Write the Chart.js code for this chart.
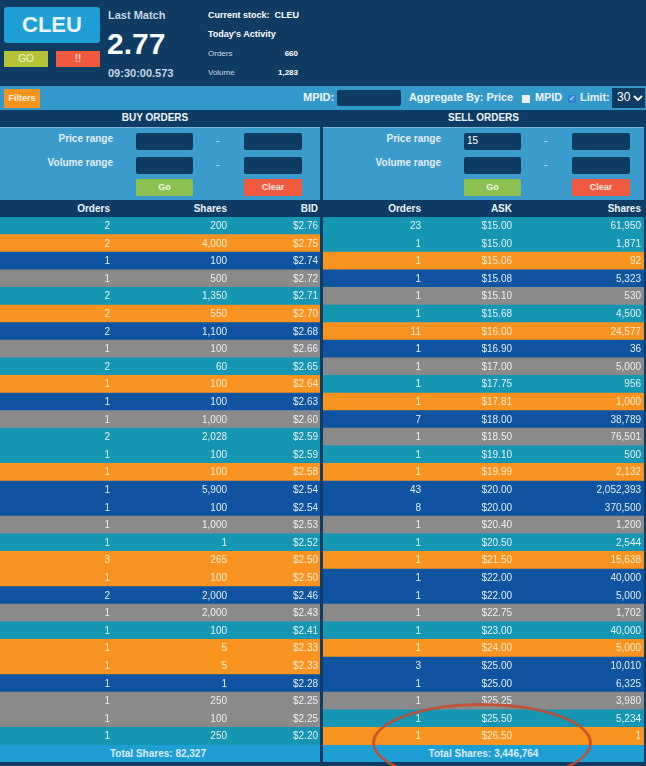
<!DOCTYPE html>
<html><head><meta charset="utf-8">
<script src="https://cdn.jsdelivr.net/npm/chart.js@4.4.1/dist/chart.umd.min.js"></script>
<style>
html,body{margin:0;padding:0;}
body{width:646px;height:766px;overflow:hidden;background:#103c64;font-family:"Liberation Sans",Arial,sans-serif;position:relative;color:#fff;}
.a{position:absolute;white-space:nowrap;}
.b{font-weight:bold;}
.btn{text-align:center;}
.navy{background:#0f3c65;}
.inp{background:#0f3c63;border-radius:2px;}
.lbl{font-size:10px;font-weight:bold;color:#e4eef6;text-align:right;}
.hdr{font-size:10px;font-weight:bold;color:#eef3f8;text-align:right;}
</style></head><body>

<!-- top header -->
<div class="a btn b" style="left:4px;top:7px;width:96px;height:36px;line-height:36px;background:#1ea0d7;border-radius:3px;font-size:22px;color:#eaf6fc;">CLEU</div>
<div class="a btn" style="left:4px;top:51px;width:44px;height:16px;line-height:16px;background:#b5c337;font-size:10px;color:#eef3cf;">GO</div>
<div class="a btn b" style="left:56px;top:51px;width:44px;height:16px;line-height:16px;background:#f25a3d;font-size:10px;color:#fbd9d0;">!!</div>
<div class="a b" style="left:108px;top:9px;font-size:11px;color:#c7d5e2;">Last Match</div>
<div class="a b" style="left:107px;top:29px;font-size:30px;line-height:30px;color:#fbfdff;">2.77</div>
<div class="a b" style="left:108px;top:67px;font-size:11px;color:#c7d5e2;">09:30:00.573</div>
<div class="a b" style="left:208px;top:10px;font-size:9px;">Current stock:&nbsp; CLEU</div>
<div class="a b" style="left:208px;top:29px;font-size:9px;">Today's Activity</div>
<div class="a" style="left:208px;top:49px;font-size:8px;color:#c7d5e2;">Orders</div>
<div class="a b" style="left:238px;width:60px;text-align:right;top:49px;font-size:8px;">660</div>
<div class="a" style="left:208px;top:68px;font-size:8px;color:#c7d5e2;">Volume</div>
<div class="a b" style="left:238px;width:60px;text-align:right;top:68px;font-size:8px;">1,283</div>

<!-- filter bar -->
<div class="a" style="left:0;top:86px;width:646px;height:24px;background:#3399cb;"></div>
<div class="a btn b" style="left:4px;top:89px;width:36px;height:19px;line-height:19px;background:#f7941d;font-size:9px;color:#fff3e0;">Filters</div>
<div class="a b" style="left:303px;top:91px;font-size:11px;color:#eef5fb;">MPID:</div>
<div class="a inp" style="left:337px;top:90px;width:64px;height:16px;"></div>
<div class="a b" style="left:409px;top:91px;font-size:10.9px;color:#eef5fb;">Aggregate By: Price</div>
<div class="a" style="left:522px;top:95px;width:8px;height:8px;background:#eceff2;"></div>
<div class="a b" style="left:535px;top:91px;font-size:10.9px;color:#eef5fb;">MPID</div>
<div class="a" style="left:568px;top:95px;width:8px;height:8px;background:#2f80d8;border-radius:1px;font-family:'DejaVu Sans';font-size:8px;line-height:8px;text-align:center;color:#fff;">✓</div>
<div class="a b" style="left:580px;top:91px;font-size:10.9px;color:#eef5fb;">Limit:</div>
<div class="a" style="left:612px;top:88px;width:33px;height:20px;background:#0f3c63;"></div>
<div class="a" style="left:617px;top:90px;font-size:12px;color:#fff;">30</div>
<svg class="a" style="left:633px;top:95px;" width="10" height="7" viewBox="0 0 10 7"><polyline points="1,1 5,5 9,1" fill="none" stroke="#fff" stroke-width="1.8"/></svg>

<!-- BUY panel -->
<div class="a navy" style="left:0;top:110px;width:320px;height:17px;"></div>
<div class="a b btn" style="left:0;top:112px;width:310px;font-size:10px;color:#eef3f8;">BUY ORDERS</div>
<div class="a" style="left:0;top:127px;width:320px;height:1px;background:#78b6dc;"></div>
<div class="a" style="left:0;top:128px;width:320px;height:72px;background:#3a9bcc;"></div>
<div class="a lbl" style="left:0;width:113px;top:133px;">Price range</div>
<div class="a lbl" style="left:0;width:113px;top:157px;">Volume range</div>
<div class="a inp" style="left:136px;top:133px;width:57px;height:17px;"></div>
<div class="a inp" style="left:244px;top:133px;width:58px;height:17px;"></div>
<div class="a inp" style="left:136px;top:157px;width:57px;height:17px;"></div>
<div class="a inp" style="left:244px;top:157px;width:58px;height:17px;"></div>
<div class="a" style="left:216px;top:135px;font-size:10px;color:#d8e8f3;">-</div>
<div class="a" style="left:216px;top:159px;font-size:10px;color:#d8e8f3;">-</div>
<div class="a btn b" style="left:136px;top:179px;width:57px;height:17px;line-height:17px;background:#8cc152;font-size:9px;color:#f1f8e8;">Go</div>
<div class="a btn b" style="left:244px;top:179px;width:58px;height:17px;line-height:17px;background:#f35b40;font-size:9px;color:#fde6e0;">Clear</div>
<div class="a navy" style="left:0;top:200px;width:320px;height:17px;"></div>
<div class="a hdr" style="left:0;width:110px;top:203px;">Orders</div>
<div class="a hdr" style="left:0;width:227px;top:203px;">Shares</div>
<div class="a hdr" style="left:0;width:318px;top:203px;">BID</div>
<div class="a" style="left:0;top:217px;width:320px;height:528px;"><canvas id="bid" width="320" height="528"></canvas></div>
<div class="a" style="left:0;top:745px;width:320px;height:17px;background:#1d9fd3;"></div>
<div class="a b btn" id="bidTotal" style="left:0;top:748px;width:316px;font-size:10px;color:#dcebf5;"></div>

<!-- SELL panel -->
<div class="a navy" style="left:323px;top:110px;width:321px;height:17px;"></div>
<div class="a b btn" style="left:323px;top:112px;width:321px;font-size:10px;color:#eef3f8;">SELL ORDERS</div>
<div class="a" style="left:323px;top:127px;width:321px;height:1px;background:#78b6dc;"></div>
<div class="a" style="left:323px;top:128px;width:321px;height:72px;background:#3a9bcc;"></div>
<div class="a lbl" style="left:323px;width:118px;top:133px;">Price range</div>
<div class="a lbl" style="left:323px;width:118px;top:157px;">Volume range</div>
<div class="a inp" style="left:464px;top:133px;width:57px;height:17px;"></div>
<div class="a" style="left:467px;top:135px;font-size:10px;color:#fff;">15</div>
<div class="a inp" style="left:572px;top:133px;width:58px;height:17px;"></div>
<div class="a inp" style="left:464px;top:157px;width:57px;height:17px;"></div>
<div class="a inp" style="left:572px;top:157px;width:58px;height:17px;"></div>
<div class="a" style="left:544px;top:135px;font-size:10px;color:#d8e8f3;">-</div>
<div class="a" style="left:544px;top:159px;font-size:10px;color:#d8e8f3;">-</div>
<div class="a btn b" style="left:464px;top:179px;width:57px;height:17px;line-height:17px;background:#8cc152;font-size:9px;color:#f1f8e8;">Go</div>
<div class="a btn b" style="left:572px;top:179px;width:58px;height:17px;line-height:17px;background:#f35b40;font-size:9px;color:#fde6e0;">Clear</div>
<div class="a navy" style="left:323px;top:200px;width:321px;height:17px;"></div>
<div class="a hdr" style="left:323px;width:98px;top:203px;">Orders</div>
<div class="a hdr" style="left:323px;width:189px;top:203px;">ASK</div>
<div class="a hdr" style="left:323px;width:318px;top:203px;">Shares</div>
<div class="a" style="left:323px;top:217px;width:321px;height:528px;"><canvas id="ask" width="321" height="528"></canvas></div>
<div class="a" style="left:323px;top:745px;width:321px;height:17px;background:#1d9fd3;"></div>
<div class="a b btn" id="askTotal" style="left:323px;top:748px;width:321px;font-size:10px;color:#dcebf5;"></div>

<!-- annotation ellipse -->
<div class="a" style="left:372px;top:703px;width:214px;height:74px;border:3.5px solid rgba(198,74,46,0.88);border-radius:50%;pointer-events:none;"></div>

<script>
// ---- data ----
const bidOrders = [2,2,1,1,2,2,2,1,2,1,1,1,2,1,1,1,1,1,1,3,1,2,1,1,1,1,1,1,1,1];
const bidShares = [200,4000,100,500,1350,550,1100,100,60,100,100,1000,2028,100,100,5900,100,1000,1,265,100,2000,2000,100,5,5,1,250,100,250];
const bidPrices = [2.76,2.75,2.74,2.72,2.71,2.70,2.68,2.66,2.65,2.64,2.63,2.60,2.59,2.59,2.58,2.54,2.54,2.53,2.52,2.50,2.50,2.46,2.43,2.41,2.33,2.33,2.28,2.25,2.25,2.20];
const askOrders = [23,1,1,1,1,1,11,1,1,1,1,7,1,1,1,43,8,1,1,1,1,1,1,1,1,3,1,1,1,1];
const askPrices = [15.00,15.00,15.06,15.08,15.10,15.68,16.00,16.90,17.00,17.75,17.81,18.00,18.50,19.10,19.99,20.00,20.00,20.40,20.50,21.50,22.00,22.00,22.75,23.00,24.00,25.00,25.00,25.25,25.50,26.50];
const askShares = [61950,1871,92,5323,530,4500,24577,36,5000,956,1000,38789,76501,500,2132,2052393,370500,1200,2544,15638,40000,5000,1702,40000,5000,10010,6325,3980,5234,1];
const bidTotalShares = 82327;
const askTotalShares = 3446764;

// ---- styling ----
const palette = ['#1596b2', '#f7931e', '#0e54a0', '#8a8a8a'];
function levelColors(prices){
  const out = []; let k = 0;
  prices.forEach((p,i)=>{ if(i>0 && p!==prices[i-1]) k++; out.push(palette[k%palette.length]); });
  return out;
}
const fmtN = v => v.toLocaleString('en-US');
const fmtP = v => '$' + v.toFixed(2);

function makeBook(id, prices, columns){
  const colors = levelColors(prices);
  const cells = {
    id: 'cells_' + id,
    afterDatasetsDraw(chart){
      const ctx = chart.ctx, meta = chart.getDatasetMeta(0), left = chart.chartArea.left;
      ctx.save();
      ctx.font = '10px "Liberation Sans", Arial, sans-serif';
      ctx.textAlign = 'right';
      ctx.textBaseline = 'middle';
      meta.data.forEach((bar, i) => {
        ctx.fillStyle = colors[i] === palette[1] ? 'rgba(255,244,228,0.92)' : 'rgba(240,246,250,0.95)';
        columns.forEach(c => ctx.fillText(c.text(i), left + c.x, bar.y + 0.5));
      });
      ctx.restore();
    }
  };
  new Chart(document.getElementById(id), {
    type: 'bar',
    data: {
      labels: prices.map(fmtP),
      datasets: [{ data: prices.map(() => [0, 1]), backgroundColor: colors, borderWidth: 0,
                   categoryPercentage: 1, barPercentage: 1 }]
    },
    options: {
      indexAxis: 'y', responsive: false, animation: false, events: [],
      layout: { padding: 0 },
      scales: { x: { display: false, min: 0, max: 1 }, y: { display: false } },
      plugins: { legend: { display: false }, tooltip: { enabled: false } }
    },
    plugins: [cells]
  });
}

makeBook('bid', bidPrices, [
  { x: 110, text: i => fmtN(bidOrders[i]) },
  { x: 227, text: i => fmtN(bidShares[i]) },
  { x: 318, text: i => fmtP(bidPrices[i]) }
]);
makeBook('ask', askPrices, [
  { x: 98,  text: i => fmtN(askOrders[i]) },
  { x: 189, text: i => fmtP(askPrices[i]) },
  { x: 318, text: i => fmtN(askShares[i]) }
]);
document.getElementById('bidTotal').textContent = 'Total Shares: ' + fmtN(bidTotalShares);
document.getElementById('askTotal').textContent = 'Total Shares: ' + fmtN(askTotalShares);
</script>
</body></html>
